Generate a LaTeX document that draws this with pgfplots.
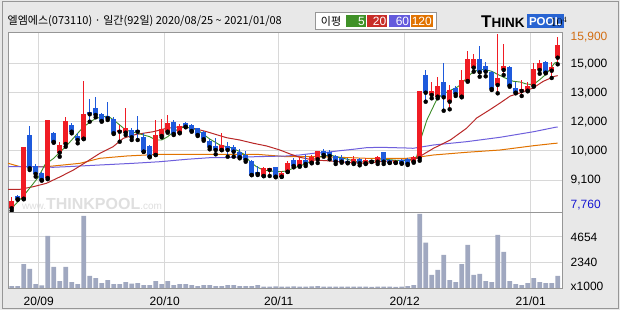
\documentclass[border=0pt]{standalone}
\usepackage{pgfplots}
\pgfplotsset{compat=1.18}
\usepackage{pgfplotstable}
\usepackage{fontspec}
\setmainfont{Liberation Sans}
\newfontfamily\kr{Noto Sans CJK KR}
\definecolor{bgcol}{RGB}{232,232,232}
\definecolor{framecol}{RGB}{150,150,150}
\definecolor{gridcol}{RGB}{216,216,216}
\definecolor{cred}{RGB}{240,28,36}
\definecolor{cblue}{RGB}{30,90,220}
\definecolor{volcol}{RGB}{160,168,192}
\definecolor{maA}{RGB}{60,140,40}
\definecolor{maB}{RGB}{185,40,40}
\definecolor{maC}{RGB}{110,95,220}
\definecolor{maD}{RGB}{225,115,0}
\definecolor{lgA}{RGB}{64,145,40}
\definecolor{lgB}{RGB}{200,45,40}
\definecolor{lgC}{RGB}{100,90,220}
\definecolor{lgD}{RGB}{225,115,0}
\definecolor{maxc}{RGB}{210,110,20}
\definecolor{minc}{RGB}{20,20,210}
\definecolor{logoblue}{RGB}{40,100,210}

\pgfplotstableread{
i o h l c
0 7775 8294 7662 8134
2 8228 10680 8200 10655
6 9206 11950 9150 11945
8 10400 10920 10212 10750
9 10811 12072 10684 11897
12 11062 13786 11040 12214
18 11392 11708 10920 11487
19 11345 12511 11236 11581
24 10292 11945 10290 11236
25 11189 11978 11128 11505
26 11392 12181 11345 11789
28 11345 11756 11317 11661
35 10528 11345 10520 10764
42 9300 9740 9290 9692
43 9584 9700 9300 9692
45 9267 9536 9260 9428
46 9503 10022 9489 9900
48 9772 10212 9740 10056
50 9928 10292 9900 10212
51 10089 10495 9914 10481
57 9900 10245 9867 10089
59 9900 10136 9867 10056
61 9975 10245 9867 10183
64 9928 10056 9914 10022
67 9975 10245 9928 10183
68 10136 13320 10022 13314
70 13125 13753 12969 13314
71 13045 13989 12969 13550
73 12809 13611 12450 13361
75 13045 14306 13016 13833
76 13786 15203 13753 14825
77 14414 15047 14225 14825
81 13597 16006 13205 13942
82 14306 15533 14069 14494
85 13314 13847 13078 13394
86 13328 13725 13300 13564
87 13550 14650 13517 14339
88 14306 14778 14131 14650
90 14273 14698 13928 14461
91 14886 15878 14575 15486
}\uptable

\pgfplotstableread{
i o h l c
1 8356 8380 8180 8200
3 11236 11675 9584 9664
4 9772 9850 9270 9395
5 9456 9500 9080 9111
7 11331 11390 10870 10906
10 11708 11790 11316 11392
11 11189 11317 10844 11000
13 12336 12922 11864 12214
14 12497 13016 12072 12181
15 12214 12260 11864 11897
16 12133 12809 11945 12025
17 11992 12072 11284 11317
20 11472 11553 11000 11128
21 11487 12133 11000 11392
22 11156 11317 10440 10448
23 10731 10760 10183 10212
27 11836 11945 11236 11284
29 11817 11864 11600 11628
30 11694 11740 11392 11425
31 11553 11581 11189 11236
32 11392 11425 10967 11033
33 10953 11047 10561 10655
34 10717 11080 10325 10528
36 10717 10920 10212 10528
37 10655 10764 10212 10448
38 10448 10561 10136 10183
39 10292 10495 9975 10056
40 10009 10056 9340 9347
41 9489 9772 9347 9395
44 9725 9740 9240 9267
47 10056 10150 9710 9772
49 10056 10292 9772 9867
52 10481 10561 10212 10292
53 10419 10528 10089 10245
54 10245 10292 9867 9975
55 10164 10292 9928 9975
56 10022 10136 9900 9928
58 10103 10136 9805 9900
60 10056 10060 9960 9975
62 10434 10440 9867 9975
63 10056 10103 9914 9928
65 10056 10080 9880 9900
66 10089 10136 9820 9867
69 14069 14306 12809 13234
72 13753 14622 12384 13016
74 13470 13570 13080 13172
78 14825 15439 13989 14197
79 14494 14683 14008 14225
80 14225 14270 13361 13408
83 14461 14494 13517 13564
84 13470 13725 13205 13234
89 14698 14730 14150 14178
}\downtable

\pgfplotstableread{
i v
0 180
1 180
2 2185
3 1730
4 364
5 245
6 4735
7 1912
8 637
9 1912
10 546
11 364
12 6556
13 1093
14 910
15 455
16 728
17 364
18 364
19 546
20 400
21 455
22 273
23 273
24 637
25 364
26 637
27 273
28 364
29 364
30 273
31 180
32 273
33 273
34 180
35 180
36 273
37 273
38 180
39 180
40 180
41 273
42 130
43 130
44 150
45 130
46 130
47 150
48 130
49 130
50 150
51 180
52 130
53 130
54 130
55 120
56 120
57 130
58 120
59 120
60 110
61 120
62 130
63 120
64 110
65 120
66 180
67 273
68 6738
69 4127
70 1184
71 1639
72 3005
73 728
74 546
75 2185
76 3915
77 1184
78 1275
79 637
80 546
81 4826
82 3278
83 637
84 364
85 273
86 455
87 910
88 546
89 455
90 455
91 1093
}\voltable

\pgfplotsset{every tick label/.append style={font=\fontsize{12}{12}\selectfont}}

\begin{document}
\begin{tikzpicture}[x=1pt,y=1pt]
\fill[bgcol] (0,0) rectangle (620,310);
\draw[framecol, line width=1pt] (2,1.8) rectangle (618,308.3);
\fill[white] (8,22) rectangle (562,278);
% title
\node[anchor=west, inner sep=0pt] at (7.5,288.5) {\kr\fontsize{11}{11}\selectfont 엘엠에스(073110) · 일간(92일) 2020/08/25 \char"007E{} 2021/01/08};
% legend
\draw[framecol, fill=white] (315,280.7) rectangle (436,297.3);
\node[inner sep=0pt] at (331,288.8) {\kr\fontsize{11}{11}\selectfont 이평};
\fill[lgA] (345.7,282.7) rectangle (366,295);
\fill[lgB] (367.3,282.7) rectangle (387.3,295);
\fill[lgC] (388.7,282.7) rectangle (410,295);
\fill[lgD] (411,282.7) rectangle (432.7,295);
\node[anchor=east, inner sep=0pt, white] at (365,288.8) {\fontsize{12}{12}\selectfont 5};
\node[anchor=east, inner sep=0pt, white] at (386.5,288.8) {\fontsize{12}{12}\selectfont 20};
\node[anchor=east, inner sep=0pt, white] at (409.3,288.8) {\fontsize{12}{12}\selectfont 60};
\node[anchor=east, inner sep=0pt, white] at (432,288.8) {\fontsize{12}{12}\selectfont 120};
% logo
\node[anchor=south west, inner sep=0pt] at (481,282.5) {\bfseries\fontsize{17}{17}\selectfont T\fontsize{13.5}{13.5}\selectfont HINK};
\fill[logoblue] (526.7,281.7) rectangle (564,296);
\node[inner sep=0pt, white] at (545.3,288.8) {\bfseries\fontsize{11.5}{11.5}\selectfont POOL};
% watermark
\node[anchor=south west, inner sep=0pt, gray!25] at (22,100) {\fontsize{10}{10}\selectfont www.\bfseries\fontsize{16}{16}\selectfont THINKPOOL\mdseries\fontsize{10}{10}\selectfont .com};

\begin{axis}[
  at={(8pt,98pt)}, anchor=south west, scale only axis,
  width=554pt, height=180pt,
  xmin=-0.617, xmax=91.717, ymin=7600, ymax=16100,
  axis line style={draw=framecol},
  xtick={4.5,25.5,44.5,65.5,86.5}, xticklabels={},
  ytick={14589,13220,11850,10481,9111},
  yticklabels={{15,000},{13,000},{12,000},{10,000},{9,100}},
  extra y ticks={15850,7931},
  extra y tick labels={{\textcolor{maxc}{15,900}},{\textcolor{minc}{7,760}}},
  extra y tick style={grid=none},
  grid=major, major grid style={draw=gridcol, line width=1pt},
  major tick length=0pt,
  yticklabel pos=right,
  yticklabel style={anchor=west, inner sep=0pt, xshift=8.5pt},
]
\addplot[maD, line width=1pt, mark=none] coordinates {(-0.6,9900) (1.4,9740) (5.8,9740) (11.4,9900) (14.7,10136) (19.2,10245) (24.7,10325) (33,10325) (40.8,10325) (45.8,10212) (50.3,10212) (54.7,10183) (59.1,10136) (65.8,10136) (67.5,10183) (70.3,10292) (75.8,10419) (81.4,10528) (87,10731) (90.6,10844) (91,10849)};
\addplot[maC, line width=1pt, mark=none] coordinates {(-0.6,9740) (3.6,9740) (6.9,9711) (9.2,9740) (14.7,9820) (20.3,9900) (24.7,9975) (29.2,10089) (33,10164) (34.7,10164) (40.8,10212) (45.8,10245) (48,10292) (50.3,10372) (52.5,10419) (54.7,10495) (56.9,10561) (59.1,10636) (61.4,10655) (65.8,10622) (66.9,10608) (70.3,10764) (75.8,10920) (81.4,11128) (87,11392) (90.6,11600) (91,11614)};
\addplot[maB, line width=1pt, mark=none] coordinates {(-0.6,8672) (1.4,8672) (3.6,8795) (5.8,8956) (8.1,9267) (10.3,9584) (12.5,9975) (14.7,10372) (16.9,10684) (18.6,11080) (20.3,11236) (21.9,11317) (23.6,11392) (25.8,11553) (28.1,11628) (30.3,11553) (32.5,11392) (35.8,11109) (38,11000) (40.3,10844) (42.5,10717) (44.7,10528) (46.4,10339) (48,10183) (50.3,10056) (52.5,10022) (54.7,9975) (56.9,9928) (59.1,9900) (61.4,9975) (63.6,10022) (65.8,10056) (67.5,10136) (70.3,10608) (73.1,11000) (75.8,11553) (77.5,12039) (79.7,12431) (81.4,12747) (83.1,13078) (84.7,13220) (86.9,13456) (88.6,13772) (90.5,14008) (91,14040)};
\addplot[maA, line width=0.9pt, mark=none] coordinates {(0,7775) (2,8370) (4.5,9267) (5.5,9820) (7,10136) (9,10684) (11,11317) (12,11628) (14,12025) (16,12133) (17,11945) (19,11472) (20,11392) (22,11236) (23,11156) (24,11000) (25,11000) (26,11156) (27,11392) (28,11553) (29,11628) (31,11472) (33,11047) (34.7,10764) (36.9,10608) (38,10448) (38.9,10292) (39.7,9975) (40.8,9739) (41.9,9584) (43,9536) (44.7,9503) (45.8,9536) (46.9,9664) (48,9772) (49.2,9900) (50.3,10089) (51.4,10212) (53,10292) (54.2,10212) (55.3,10136) (56.4,10056) (57.5,9975) (59.7,9975) (62,10089) (64.7,10032) (66.9,10056) (67.5,10212) (68.3,11156) (69.2,11945) (70,12417) (70.8,12889) (71.7,13150) (72.8,13300) (74.2,13489) (75,13645) (75.8,13928) (76.7,14164) (77.8,14320) (78.9,14320) (80,14244) (81.1,14084) (82.5,13895) (83.6,13772) (84.7,13739) (85.8,13645) (86.9,13611) (88,13847) (89.1,14117) (90.5,14636) (90.9,14680)};
% wicks
\addplot[only marks, mark=none, error bars/.cd, y dir=plus, y explicit, error mark=none, error bar style={draw=cred, line width=1pt}] table[x=i, y=l, y error expr=\thisrow{h}-\thisrow{l}] {\uptable};
\addplot[only marks, mark=none, error bars/.cd, y dir=plus, y explicit, error mark=none, error bar style={draw=cblue, line width=1pt}] table[x=i, y=l, y error expr=\thisrow{h}-\thisrow{l}] {\downtable};
% bodies
\addplot[only marks, mark=none, error bars/.cd, y dir=plus, y explicit, error mark=none, error bar style={draw=cred, line width=4.6pt}] table[x=i, y=o, y error expr=\thisrow{c}-\thisrow{o}] {\uptable};
\addplot[only marks, mark=none, error bars/.cd, y dir=plus, y explicit, error mark=none, error bar style={draw=cblue, line width=4.6pt}] table[x=i, y=c, y error expr=\thisrow{o}-\thisrow{c}] {\downtable};
\end{axis}

\begin{axis}[
  at={(8pt,22pt)}, anchor=south west, scale only axis,
  width=554pt, height=76pt,
  xmin=-0.617, xmax=91.717, ymin=0, ymax=6920,
  axis line style={draw=framecol},
  xtick={4.5,25.5,44.5,65.5,86.5},
  xticklabels={20/09,20/10,20/11,20/12,21/01},
  xticklabel style={inner sep=0pt, yshift=-8.5pt},
  ytick={2340,4654}, yticklabels={2340,4654},
  extra y ticks={180}, extra y tick labels={x1000},
  extra y tick style={grid=none},
  grid=major, major grid style={draw=gridcol, line width=1pt},
  major tick length=0pt,
  yticklabel pos=right,
  yticklabel style={anchor=west, inner sep=0pt, xshift=8.5pt},
]
\addplot[ybar, bar width=4.6pt, fill=volcol, draw=none] table[x=i, y=v] {\voltable};
\end{axis}
\end{tikzpicture}
\end{document}
